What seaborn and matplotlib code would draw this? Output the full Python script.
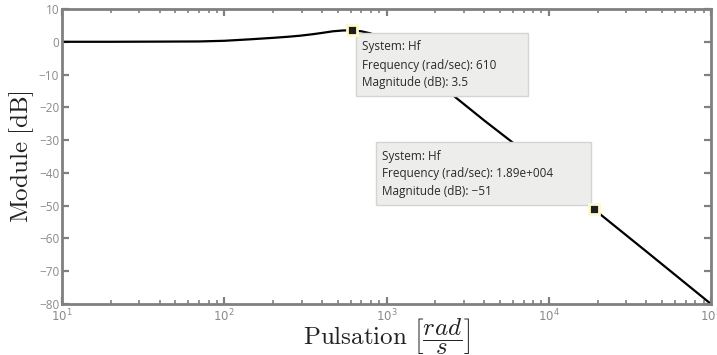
import numpy as np
import pandas as pd
import matplotlib
matplotlib.use("Agg")
import matplotlib.pyplot as plt
from matplotlib.patches import Rectangle
from matplotlib.ticker import LogLocator
import seaborn as sns

# ---- data ----
freq = [10, 20, 40, 70, 100, 144, 200, 250, 293, 350, 400, 468, 540, 610, 700, 791,
        900, 1000, 1200, 1500, 2000, 2640, 4000, 5910, 10000, 18900, 40000, 100000]
mag_db = [0.0, 0.0, 0.05, 0.1, 0.3, 0.75, 1.2, 1.55, 1.85, 2.3, 2.7, 3.2, 3.45, 3.5, 3.2, 2.6,
          1.6, 0.6, -2.2, -6.0, -11.2, -16.8, -24.0, -30.5, -40.0, -51.0, -64.0, -80.0]
tip_freq = [610, 18900]
tip_mag = [3.5, -51]
tip_texts = [["System: Hf", "Frequency (rad/sec): 610", "Magnitude (dB): 3.5"],
             ["System: Hf", "Frequency (rad/sec): 1.89e+004", "Magnitude (dB): \u221251"]]
yticks = list(range(-80, 11, 10))

df = pd.DataFrame({"freq": freq, "mag": mag_db})

sns.set_style("white")
plt.rcParams["mathtext.fontset"] = "cm"
plt.rcParams["axes.unicode_minus"] = True

W, H = 717, 355
fig = plt.figure(figsize=(W / 100, H / 100), dpi=100)
ax = fig.add_axes([62 / W, 1 - 304 / H, (711 - 62) / W, (304 - 9) / H])

sns.lineplot(data=df, x="freq", y="mag", ax=ax, color="black", linewidth=1.6,
             zorder=2, sort=False)
ax.set_xscale("log")
ax.set_xlim(10, 1e5)
ax.set_ylim(-80, 10)
ax.set_yticks(yticks)
ax.xaxis.set_major_locator(LogLocator(base=10, numticks=10))
ax.xaxis.set_minor_locator(LogLocator(base=10, subs=np.arange(2, 10), numticks=20))

spine_col = "#808080"
for s in ax.spines.values():
    s.set_visible(True)
    s.set_color(spine_col)
    s.set_linewidth(2.0)

ax.tick_params(axis="both", which="both", direction="in", top=True, right=True,
               bottom=True, left=True,
               color=spine_col, labelcolor="#8a8a8a", labelsize=8.5)
ax.tick_params(which="major", length=5, width=1.6)
ax.tick_params(which="minor", length=3, width=1.2)
for lab in ax.get_yticklabels():
    lab.set_fontfamily("Open Sans")
ax.tick_params(axis="y", pad=2)
ax.tick_params(axis="x", pad=3)

ax.set_xlabel(r"$\mathrm{Pulsation}\ \left[\dfrac{rad}{s}\right]$", fontsize=18,
              color="#222222", labelpad=-6)
ax.set_ylabel(r"$\mathrm{Module\ [dB]}$", fontsize=18, color="#222222", labelpad=2)

# ---- datatip boxes ----
boxes = [(356, 33, 528, 96, 362, [46.7, 65.0, 82.7]),
         (376, 142, 591, 205, 382, [156.7, 173.3, 191.7])]
for (x0, y0, x1, y1, tx, lines), texts in zip(boxes, tip_texts):
    rect = Rectangle((x0 / W, 1 - y1 / H), (x1 - x0) / W, (y1 - y0) / H,
                     transform=fig.transFigure, facecolor="#ededeb",
                     edgecolor="#d4d4d2", linewidth=1.0, zorder=3, clip_on=False)
    ax.add_patch(rect)
    for ly, t in zip(lines, texts):
        ax.text(tx / W, 1 - ly / H, t, transform=fig.transFigure, fontsize=8.5,
                family="Open Sans", color="#2a2a2a", va="center", ha="left",
                zorder=4, clip_on=False)

ax.plot(tip_freq, tip_mag, linestyle="none", marker="s", markersize=6.5,
        markerfacecolor="#1e1e1e", markeredgecolor="#fdf9cf", markeredgewidth=2.0,
        zorder=5, clip_on=False)

fig.savefig("out.png", dpi=100)
